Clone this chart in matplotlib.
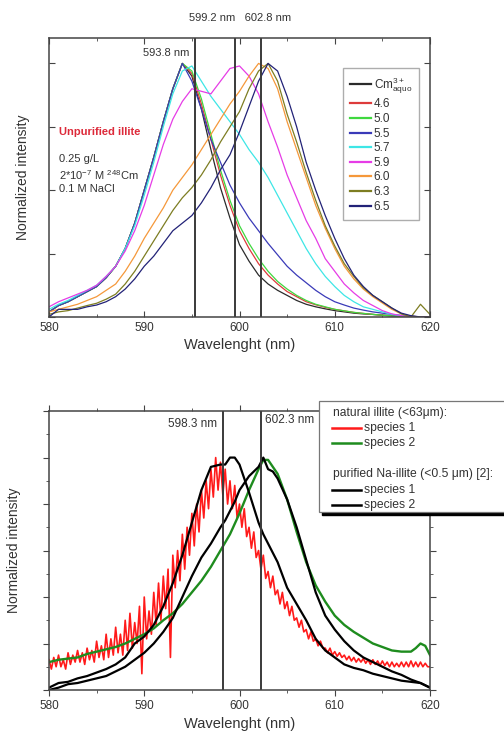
import matplotlib
matplotlib.use("Agg")
import matplotlib.pyplot as plt
import numpy as np
from matplotlib.lines import Line2D
from matplotlib.patches import Rectangle
from matplotlib.ticker import MultipleLocator

plt.rcParams["font.family"] = ["Liberation Sans", "DejaVu Sans"]
plt.rcParams["mathtext.default"] = "regular"

# ---------- top panel: unpurified illite, pH series ----------
WL_TOP = list(range(580, 621))

SERIES_TOP = ["Cm$^{3+}_{aquo}$", "4.6", "5.0", "5.5", "5.7", "5.9", "6.0", "6.3", "6.5"]
COLORS_TOP = ["#2b2b2b", "#dd3b3b", "#3fd83f", "#3a3ab8", "#3ee6e6",
              "#e63ce6", "#f5983a", "#7d7d22", "#222277"]

left_group = [0.02, 0.045, 0.06, 0.08, 0.10, 0.12, 0.155, 0.20, 0.27, 0.37, 0.50,
              0.63, 0.77, 0.90, 1.00]
cm_aquo = left_group + [0.95, 0.82, 0.66, 0.51, 0.39, 0.285, 0.22, 0.165, 0.13, 0.105,
                        0.085, 0.065, 0.05, 0.04, 0.032, 0.025, 0.02, 0.015, 0.012,
                        0.01, 0.007, 0.005, 0.003, 0.0, 0.0, 0.0]
ph_46 = left_group + [0.96, 0.84, 0.70, 0.56, 0.44, 0.34, 0.27, 0.21, 0.165, 0.13,
                      0.10, 0.08, 0.06, 0.048, 0.038, 0.03, 0.024, 0.018, 0.014,
                      0.01, 0.007, 0.004, 0.002, 0.0, 0.0, 0.0]
ph_50 = left_group + [0.97, 0.86, 0.72, 0.58, 0.46, 0.36, 0.29, 0.23, 0.18, 0.14,
                      0.11, 0.085, 0.065, 0.05, 0.04, 0.03, 0.024, 0.018, 0.014,
                      0.01, 0.007, 0.004, 0.002, 0.0, 0.0, 0.0]
ph_55 = left_group + [0.93, 0.82, 0.70, 0.61, 0.52, 0.45, 0.39, 0.34, 0.29, 0.245,
                      0.20, 0.165, 0.135, 0.105, 0.08, 0.06, 0.047, 0.035, 0.027,
                      0.02, 0.015, 0.01, 0.006, 0.003, 0.0, 0.0]
ph_57 = [0.03, 0.05, 0.065, 0.085, 0.105, 0.125, 0.16, 0.20, 0.27, 0.36, 0.48,
         0.61, 0.75, 0.88, 0.97, 0.99, 0.93, 0.87, 0.82, 0.77, 0.72, 0.66, 0.61,
         0.55, 0.48, 0.41, 0.34, 0.27, 0.21, 0.16, 0.12, 0.085, 0.06, 0.04, 0.03,
         0.02, 0.01, 0.005, 0.0, 0.0, 0.0]
ph_59 = [0.04, 0.06, 0.075, 0.09, 0.105, 0.125, 0.16, 0.20, 0.26, 0.34, 0.44,
         0.56, 0.68, 0.78, 0.85, 0.90, 0.89, 0.88, 0.93, 0.98, 0.99, 0.95, 0.88,
         0.77, 0.67, 0.56, 0.47, 0.38, 0.31, 0.23, 0.18, 0.13, 0.095, 0.065, 0.045,
         0.025, 0.012, 0.005, 0.0, 0.0, 0.0]
ph_60 = [0.02, 0.03, 0.04, 0.05, 0.065, 0.08, 0.105, 0.13, 0.18, 0.24, 0.31,
         0.37, 0.43, 0.50, 0.55, 0.60, 0.66, 0.72, 0.78, 0.84, 0.89, 0.95, 1.00,
         0.98, 0.90, 0.77, 0.66, 0.55, 0.44, 0.35, 0.27, 0.20, 0.15, 0.11, 0.08,
         0.055, 0.03, 0.012, 0.003, 0.0, 0.0]
ph_63 = [0.01, 0.02, 0.025, 0.035, 0.045, 0.054, 0.07, 0.09, 0.13, 0.18, 0.24,
         0.30, 0.36, 0.42, 0.47, 0.51, 0.56, 0.62, 0.69, 0.75, 0.81, 0.90, 0.97,
         1.00, 0.93, 0.80, 0.69, 0.57, 0.46, 0.36, 0.28, 0.21, 0.16, 0.115, 0.085,
         0.06, 0.035, 0.012, 0.0, 0.05, 0.01]
ph_65 = [0.0, 0.03, 0.03, 0.03, 0.04, 0.047, 0.06, 0.08, 0.11, 0.15, 0.20,
         0.24, 0.29, 0.34, 0.37, 0.40, 0.45, 0.51, 0.58, 0.64, 0.73, 0.83, 0.93,
         1.00, 0.97, 0.87, 0.75, 0.61, 0.50, 0.40, 0.31, 0.23, 0.165, 0.12, 0.085,
         0.06, 0.035, 0.015, 0.005, 0.0, 0.0]
VALUES_TOP = [cm_aquo, ph_46, ph_50, ph_55, ph_57, ph_59, ph_60, ph_63, ph_65]

LINES_TOP = [595.3, 599.5, 602.3]

# ---------- bottom panel: natural vs purified illite species ----------
WL_RED = np.arange(580, 620.01, 0.25)
nat_species1 = [
    0.13, 0.09, 0.14, 0.10, 0.15, 0.10, 0.13, 0.09, 0.16, 0.11, 0.15, 0.12,
    0.17, 0.12, 0.16, 0.11, 0.18, 0.13, 0.17, 0.12, 0.21, 0.14, 0.19, 0.13,
    0.24, 0.14, 0.22, 0.15, 0.27, 0.16, 0.24, 0.15, 0.30, 0.17, 0.33, 0.18,
    0.29, 0.20, 0.36, 0.07, 0.40, 0.22, 0.34, 0.24, 0.42, 0.28, 0.46, 0.30,
    0.49, 0.35, 0.52, 0.14, 0.58, 0.44, 0.60, 0.47, 0.67, 0.52, 0.70, 0.58,
    0.76, 0.62, 0.80, 0.68, 0.86, 0.74, 0.90, 0.78, 0.95, 0.83, 1.00, 0.86,
    0.98, 0.84, 0.95, 0.80, 0.90, 0.78, 0.88, 0.74, 0.80, 0.70, 0.78, 0.66,
    0.70, 0.61, 0.68, 0.57, 0.60, 0.52, 0.58, 0.48, 0.51, 0.44, 0.49, 0.41,
    0.43, 0.37, 0.42, 0.35, 0.38, 0.32, 0.36, 0.30, 0.31, 0.27, 0.30, 0.25,
    0.26, 0.22, 0.25, 0.21, 0.22, 0.19, 0.21, 0.18, 0.18, 0.16, 0.18, 0.15,
    0.165, 0.145, 0.16, 0.14, 0.15, 0.13, 0.145, 0.125, 0.14, 0.12, 0.135, 0.12,
    0.135, 0.115, 0.13, 0.11, 0.13, 0.11, 0.125, 0.105, 0.125, 0.105, 0.12, 0.10,
    0.12, 0.10, 0.115, 0.10, 0.12, 0.10, 0.12, 0.10, 0.125, 0.10, 0.12, 0.10,
    0.12, 0.10, 0.115, 0.10, 0.10,
]

WL_GREEN = [580, 581, 582, 583, 584, 585, 586, 587, 588, 589, 590, 591, 592, 593,
            594, 595, 596, 597, 598, 599, 600, 601, 602, 602.5, 603, 604, 605, 606,
            607, 608, 609, 610, 611, 612, 613, 614, 615, 616, 617, 618, 618.5, 619,
            619.5, 620]
nat_species2 = [0.12, 0.13, 0.135, 0.14, 0.155, 0.165, 0.175, 0.185, 0.20, 0.22,
                0.24, 0.265, 0.30, 0.33, 0.37, 0.42, 0.47, 0.53, 0.60, 0.67, 0.76,
                0.86, 0.95, 0.99, 0.99, 0.93, 0.82, 0.68, 0.55, 0.45, 0.38, 0.32,
                0.28, 0.25, 0.225, 0.20, 0.185, 0.17, 0.165, 0.165, 0.18, 0.20,
                0.19, 0.15]

WL_BLACK = [580, 581, 582, 583, 584, 585, 586, 587, 588, 589, 590, 591, 592, 593,
            594, 595, 596, 597, 598, 598.5, 599, 599.5, 600, 601, 602, 602.5, 603,
            603.5, 604, 605, 606, 607, 608, 609, 610, 611, 612, 613, 614, 615, 616,
            617, 618, 619, 620]
pur_species1 = [0.01, 0.03, 0.035, 0.05, 0.06, 0.075, 0.09, 0.11, 0.14, 0.20, 0.23,
                0.28, 0.36, 0.46, 0.58, 0.72, 0.86, 0.96, 0.97, 0.97, 1.00, 1.00,
                0.97, 0.85, 0.72, 0.67, 0.63, 0.59, 0.55, 0.44, 0.37, 0.30, 0.22,
                0.17, 0.14, 0.11, 0.095, 0.085, 0.07, 0.06, 0.05, 0.04, 0.035,
                0.03, 0.01]
pur_species2 = [0.0, 0.01, 0.025, 0.03, 0.04, 0.05, 0.06, 0.08, 0.10, 0.13, 0.16,
                0.20, 0.25, 0.31, 0.40, 0.49, 0.57, 0.63, 0.70, 0.73, 0.77, 0.81,
                0.86, 0.92, 0.96, 1.00, 0.95, 0.94, 0.91, 0.82, 0.70, 0.56, 0.42,
                0.32, 0.26, 0.21, 0.17, 0.14, 0.12, 0.10, 0.08, 0.065, 0.045,
                0.03, 0.01]

LINES_BOTTOM = [598.3, 602.3]

TICK_COLOR = "#444444"
VLINE_COLOR = "#3a3a3a"


def style_axes(ax, direction):
    ax.set_xlim(580, 620)
    ax.xaxis.set_major_locator(MultipleLocator(10))
    ax.xaxis.set_minor_locator(MultipleLocator(5))
    ax.tick_params(axis="both", which="both", direction=direction, top=True,
                   right=True, colors=TICK_COLOR, labelcolor="#333333", labelsize=8.5)
    ax.tick_params(axis="y", labelleft=False)
    ax.tick_params(which="major", length=4)
    ax.tick_params(which="minor", length=2.5)
    for spine in ax.spines.values():
        spine.set_color(TICK_COLOR)
        spine.set_linewidth(1.1)
    ax.set_xlabel("Wavelenght (nm)", fontsize=10.5, color="#333333", labelpad=3)
    ax.set_ylabel("Normalized intensity", fontsize=10, color="#333333", labelpad=14)


fig = plt.figure(figsize=(5.04, 7.32), dpi=100)

# top panel
ax1 = fig.add_axes([0.0972, 0.567, 0.756, 0.381])
for name, vals, col in zip(SERIES_TOP, VALUES_TOP, COLORS_TOP):
    ax1.plot(WL_TOP, vals, color=col, lw=0.9, label=name)
for x in LINES_TOP:
    ax1.axvline(x, color=VLINE_COLOR, lw=1.4)
ax1.set_ylim(0, 1.1)
ax1.yaxis.set_major_locator(MultipleLocator(0.25))
style_axes(ax1, "in")
ax1.yaxis.set_minor_locator(MultipleLocator(0.25))

leg = ax1.legend(loc="upper left", bbox_to_anchor=(0.772, 0.892), fontsize=8.5,
                 frameon=True, fancybox=False, edgecolor="#999999",
                 handlelength=1.8, handletextpad=0.2, labelspacing=0.22,
                 borderpad=0.6, borderaxespad=0)
for line in leg.get_lines():
    line.set_linewidth(1.6)
for t in leg.get_texts():
    t.set_color("#333333")

ax1.text(592.3, 1.04, "593.8 nm", ha="center", va="center", fontsize=8, color="#333333")
fig.text(0.476, 0.975, "599.2 nm   602.8 nm", ha="center", va="center",
         fontsize=8, color="#333333")
ax1.text(581.0, 0.728, "Unpurified illite", color="#dd2a3a", fontweight="bold",
         fontsize=8, va="center")
ax1.text(581.0, 0.622, "0.25 g/L", fontsize=8, va="center", color="#333333")
ax1.text(581.0, 0.559, "2*10$^{-7}$ M $^{248}$Cm", fontsize=8, va="center", color="#333333")
ax1.text(581.0, 0.504, "0.1 M NaCl", fontsize=8, va="center", color="#333333")

# bottom panel
ax2 = fig.add_axes([0.0972, 0.0574, 0.756, 0.381])
ax2.plot(WL_RED, nat_species1, color="#ff1a1a", lw=1.2)
ax2.plot(WL_GREEN, nat_species2, color="#1e8c1e", lw=1.7)
ax2.plot(WL_BLACK, pur_species1, color="black", lw=1.6)
ax2.plot(WL_BLACK, pur_species2, color="black", lw=1.6)
for x in LINES_BOTTOM:
    ax2.axvline(x, color=VLINE_COLOR, lw=1.4)
ax2.set_ylim(0, 1.2)
ax2.yaxis.set_major_locator(MultipleLocator(0.2))
style_axes(ax2, "out")
ax2.yaxis.set_minor_locator(MultipleLocator(0.1))

ax2.text(595.1, 1.146, "598.3 nm", ha="center", va="center", fontsize=8.5, color="#333333")
ax2.text(602.7, 1.16, "602.3 nm", ha="left", va="center", fontsize=8.5, color="#333333")

# hand-built legend box with shadow, running off the right edge
tr = ax2.transAxes


def ax_x(px):
    return (px - 49) / 381.0


def ax_y(py):
    return (690 - py) / 279.0


shadow = Rectangle((ax_x(322), ax_y(515)), ax_x(530) - ax_x(322), ax_y(404) - ax_y(515),
                   transform=tr, facecolor="black", edgecolor="black", clip_on=False, zorder=5)
box = Rectangle((ax_x(319), ax_y(512)), ax_x(527) - ax_x(319), ax_y(401) - ax_y(512),
                transform=tr, facecolor="white", edgecolor="#777777", lw=0.9,
                clip_on=False, zorder=6)
ax2.add_patch(shadow)
ax2.add_patch(box)

rows = [
    (413, None, "natural illite (<63\u03bcm):"),
    (428, "#ff1a1a", "species 1"),
    (443, "#1e8c1e", "species 2"),
    (474, None, "purified Na-illite (<0.5 \u03bcm) [2]:"),
    (490, "black", "species 1"),
    (505, "black", "species 2"),
]
for py, col, label in rows:
    if col is None:
        ax2.text(ax_x(333), ax_y(py), label, transform=tr, fontsize=8.7,
                 va="center", color="#333333", zorder=7, clip_on=False)
    else:
        ax2.add_line(Line2D([ax_x(332), ax_x(361)], [ax_y(py), ax_y(py)], transform=tr,
                            color=col, lw=1.8, zorder=7, clip_on=False))
        ax2.text(ax_x(364), ax_y(py), label, transform=tr, fontsize=8.7,
                 va="center", color="#333333", zorder=7, clip_on=False)

fig.savefig("out.png", dpi=100)
